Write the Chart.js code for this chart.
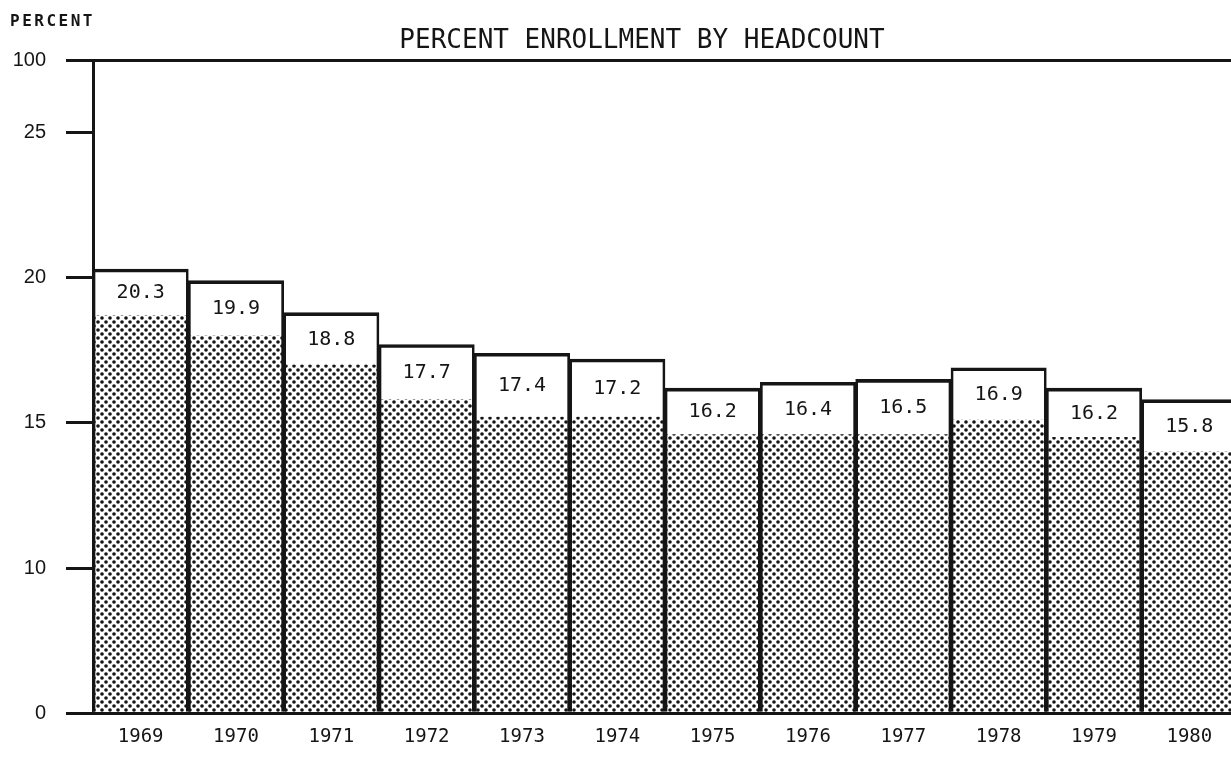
<!DOCTYPE html>
<html lang="en">

<head>
    <meta charset="UTF-8" />
    <title>Percent Enrollment by Headcount</title>
    <script src="https://cdn.jsdelivr.net/npm/chart.js"></script>
    <style>
        html, body { margin: 0; padding: 0; background: #fff; overflow: hidden; }
        .chart-container { width: 1240px; height: 760px; }
    </style>
</head>

<body>
    <div class="chart-container">
        <canvas id="enroll-chart"></canvas>
    </div>

    <script>
        const years = ['1969', '1970', '1971', '1972', '1973', '1974', '1975', '1976', '1977', '1978', '1979', '1980']
        // whole bar (printed value) and the dotted lower part
        const totalPct = [20.3, 19.9, 18.8, 17.7, 17.4, 17.2, 16.2, 16.4, 16.5, 16.9, 16.2, 15.8]
        const shadedPct = [18.7, 18.0, 17.0, 15.8, 15.2, 15.2, 14.6, 14.6, 14.6, 15.1, 14.5, 14.0]
        // broken axis: each labelled tick gets an equal slot, the jump to 100 gets half a slot
        const yTicks = [0, 10, 15, 20, 25, 100]
        const tickSlots = [0, 1, 2, 3, 4, 4.5]

        const mono = "'DejaVu Sans Mono', monospace"
        const ink = '#151515'

        class BrokenScale extends Chart.LinearScale {
            toSlot(v) {
                if (v <= yTicks[0]) return tickSlots[0]
                for (let i = 1; i < yTicks.length; i++) {
                    if (v <= yTicks[i]) {
                        let t = (v - yTicks[i - 1]) / (yTicks[i] - yTicks[i - 1])
                        return tickSlots[i - 1] + t * (tickSlots[i] - tickSlots[i - 1])
                    }
                }
                return tickSlots[tickSlots.length - 1]
            }
            fromSlot(s) {
                for (let i = 1; i < tickSlots.length; i++) {
                    if (s <= tickSlots[i]) {
                        let t = (s - tickSlots[i - 1]) / (tickSlots[i] - tickSlots[i - 1])
                        return yTicks[i - 1] + t * (yTicks[i] - yTicks[i - 1])
                    }
                }
                return yTicks[yTicks.length - 1]
            }
            buildTicks() {
                return yTicks.map(v => ({ value: v }))
            }
            getPixelForValue(v) {
                return this.getPixelForDecimal(this.toSlot(v) / tickSlots[tickSlots.length - 1])
            }
            getValueForPixel(p) {
                return this.fromSlot(this.getDecimalForPixel(p) * tickSlots[tickSlots.length - 1])
            }
        }
        BrokenScale.id = 'broken'
        BrokenScale.defaults = Chart.LinearScale.defaults
        Chart.register(BrokenScale)

        // halftone dots for the lower part of the bars
        function dotPattern() {
            let c = document.createElement('canvas')
            c.width = 8
            c.height = 8
            let g = c.getContext('2d')
            g.fillStyle = '#fff'
            g.fillRect(0, 0, 8, 8)
            g.fillStyle = '#141414'
            for (let [x, y] of [[2, 2], [6, 6]]) {
                g.beginPath()
                g.arc(x, y, 1.8, 0, Math.PI * 2)
                g.fill()
            }
            return g.createPattern(c, 'repeat')
        }

        const textPlugin = {
            id: 'texts',
            afterDatasetsDraw(chart) {
                const ctx = chart.ctx
                const y = chart.scales.y
                const meta = chart.getDatasetMeta(0)
                ctx.save()
                ctx.fillStyle = ink
                ctx.textAlign = 'center'
                ctx.textBaseline = 'middle'
                ctx.font = '20px ' + mono
                meta.data.forEach((bar, i) => {
                    let yTop = y.getPixelForValue(totalPct[i])
                    let yShade = y.getPixelForValue(shadedPct[i])
                    ctx.fillText(totalPct[i].toFixed(1), bar.x, (yTop + yShade) / 2 + 1)
                })
                ctx.restore()
            },
            afterDraw(chart) {
                const ctx = chart.ctx
                ctx.save()
                ctx.fillStyle = ink
                ctx.textBaseline = 'middle'
                ctx.textAlign = 'center'
                ctx.font = '26px ' + mono
                ctx.fillText('PERCENT ENROLLMENT BY HEADCOUNT', 642, 41)
                ctx.textAlign = 'left'
                ctx.font = 'bold 16px ' + mono
                ctx.letterSpacing = '2.5px'
                ctx.fillText('PERCENT', 10, 22)
                ctx.restore()
            }
        }

        const ctx = document.getElementById('enroll-chart').getContext('2d')
        const enrollChart = new Chart(ctx, {
            type: 'bar',
            data: {
                labels: years,
                datasets: [
                    {
                        label: 'Total', data: totalPct,
                        backgroundColor: 'rgba(0,0,0,0)', borderColor: ink,
                        borderWidth: { top: 3, left: 2, right: 2, bottom: 0 },
                        borderSkipped: false,
                    },
                    {
                        label: 'Shaded', data: shadedPct,
                        backgroundColor: dotPattern(), borderWidth: 0,
                    }
                ]
            },
            options: {
                responsive: true,
                maintainAspectRatio: false,
                animation: false,
                layout: { padding: { top: 60, right: 3, left: 0, bottom: 0 } },
                datasets: { bar: { categoryPercentage: 1, barPercentage: 1 } },
                plugins: { legend: { display: false }, title: { display: false }, tooltip: { enabled: false } },
                scales: {
                    x: {
                        stacked: true,
                        grid: { display: false, drawTicks: false },
                        border: { display: true, color: ink, width: 3 },
                        ticks: { color: ink, font: { family: mono, size: 19 }, padding: 12, maxRotation: 0 },
                    },
                    y: {
                        type: 'broken',
                        stacked: false,
                        min: 0, max: 100,
                        afterFit(scale) { scale.width = 93 },
                        grid: {
                            color: c => (c.tick && (c.tick.value === 0 || c.tick.value === 100)) ? ink : 'rgba(0,0,0,0)',
                            tickColor: ink,
                            lineWidth: 3,
                            tickLength: 27,
                        },
                        border: { display: true, color: ink, width: 3 },
                        ticks: {
                            autoSkip: false, color: ink, padding: 20,
                            font: { family: "'Liberation Sans', sans-serif", size: 20 },
                            callback: v => String(v),
                        },
                    }
                }
            },
            plugins: [textPlugin]
        })
    </script>
</body>

</html>
